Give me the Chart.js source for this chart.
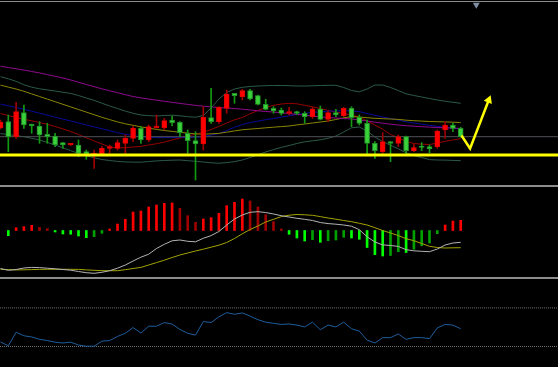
<!DOCTYPE html>
<html><head><meta charset="utf-8">
<script src="https://cdn.jsdelivr.net/npm/chart.js@4.4.1/dist/chart.umd.min.js"></script>
<style>
html,body{margin:0;padding:0;background:#000;width:558px;height:367px;overflow:hidden;}
.pane{position:absolute;left:0;width:558px;}
canvas{display:block;}
.sep{position:absolute;left:0;width:558px;background:#8c8c8c;}
</style></head><body>
<div class="pane" style="top:2px;height:182px"><canvas id="main" width="558" height="182"></canvas></div>
<div class="pane" style="top:187px;height:89px"><canvas id="macd" width="558" height="89"></canvas></div>
<div class="pane" style="top:279px;height:88px"><canvas id="rsi" width="558" height="88"></canvas></div>
<div class="sep" style="top:1px;height:1px"></div>
<div class="sep" style="top:185px;height:2px"></div>
<div class="sep" style="top:277px;height:2px"></div>
<script>
// ---- data (one entry per bar, bar 0 is the partially visible first bar) ----
const open  = [107.20,107.83,106.33,108.73,107.60,107.40,106.57,106.40,105.73,105.50,
               105.50,104.83,104.60,104.60,105.17,105.17,105.67,106.17,107.17,106.00,
               107.23,107.23,108.00,107.77,106.67,105.93,105.60,108.23,107.83,109.17,
               110.67,110.33,110.93,110.43,109.57,109.17,109.00,108.67,108.83,108.67,
               108.33,109.10,108.07,108.73,108.43,109.17,108.27,107.67,105.67,104.83,
               105.83,105.67,106.33,104.93,105.33,105.33,105.33,107.00,107.50,107.17];
const high  = [108.00,108.50,109.77,109.50,107.60,107.83,107.67,106.67,105.73,105.67,
               106.00,105.00,105.00,105.33,105.50,106.00,106.50,107.33,107.33,107.50,
               108.50,108.17,108.40,107.83,107.00,106.83,109.33,111.17,109.33,111.00,
               110.67,111.07,111.07,110.50,110.07,109.33,109.20,109.27,108.90,108.83,
               109.27,109.40,108.83,109.07,109.27,109.33,108.50,108.00,105.83,106.73,
               105.83,106.50,106.40,105.60,105.73,105.50,107.00,107.83,107.67,107.27];
const low   = [107.10,104.83,106.17,107.17,106.67,105.67,105.67,105.33,105.17,105.45,
               104.33,104.07,103.17,104.50,104.67,105.00,104.67,105.83,105.67,105.83,
               107.17,107.00,107.40,106.33,104.67,102.00,105.00,107.67,107.67,108.67,
               109.67,110.00,110.00,109.50,109.00,108.67,108.50,108.50,108.57,107.67,
               108.17,108.00,107.83,108.33,108.33,107.33,107.50,104.60,104.17,104.67,
               103.83,105.33,104.67,104.83,104.93,104.73,105.17,106.17,106.83,106.27];
const close = [107.80,106.33,108.83,107.50,107.40,106.50,106.33,105.50,105.50,105.67,
               104.67,104.60,104.70,105.17,105.33,105.73,106.17,107.17,106.00,107.33,
               107.40,107.93,107.73,106.73,105.93,105.60,108.27,107.83,109.27,110.60,
               110.43,110.93,110.10,109.57,109.07,108.90,108.67,108.83,108.67,108.33,
               109.10,108.07,108.73,108.50,109.17,108.23,107.67,105.67,104.93,105.83,
               105.67,106.33,104.93,105.23,105.27,105.10,106.90,107.50,107.17,106.33];

const maFast  = [108.65,108.45,108.25,108.07,107.92,107.75,107.57,107.35,107.11,106.85,
                 106.55,106.22,105.90,105.60,105.30,105.20,105.24,105.30,105.36,105.50,
                 105.63,105.79,106.00,106.20,106.40,106.58,106.77,107.05,107.36,107.70,
                 108.02,108.25,108.62,108.96,109.24,109.47,109.60,109.67,109.62,109.47,
                 109.32,109.15,108.96,108.80,108.64,108.52,108.28,107.90,107.50,107.08,
                 106.55,106.22,105.85,105.65,105.58,105.55,105.70,105.87,106.00,106.14];
const maMid   = [109.59,109.42,109.25,109.07,108.88,108.68,108.49,108.29,108.10,107.90,
                 107.71,107.51,107.32,107.12,106.93,106.73,106.58,106.45,106.32,106.28,
                 106.24,106.24,106.25,106.27,106.27,106.27,106.34,106.49,106.65,106.95,
                 107.27,107.55,107.74,107.89,108.03,108.15,108.29,108.42,108.54,108.67,
                 108.76,108.82,108.88,108.91,108.93,108.90,108.84,108.65,108.47,108.30,
                 108.14,107.98,107.82,107.70,107.58,107.47,107.36,107.26,107.18,107.10];
const maSlow  = [111.49,111.29,111.10,110.87,110.61,110.35,110.09,109.83,109.57,109.31,
                 109.05,108.79,108.53,108.27,108.04,107.81,107.62,107.47,107.31,107.19,
                 107.06,106.95,106.86,106.77,106.69,106.61,106.58,106.62,106.66,106.78,
                 106.91,107.02,107.09,107.15,107.22,107.28,107.34,107.40,107.51,107.60,
                 107.70,107.80,107.90,108.05,108.22,108.34,108.30,108.23,108.17,108.13,
                 108.10,108.06,107.98,107.93,107.89,107.85,107.83,107.81,107.78,107.75];
const maLong  = [113.38,113.25,113.12,113.00,112.85,112.71,112.54,112.37,112.20,112.00,
                 111.78,111.55,111.33,111.12,110.92,110.73,110.53,110.35,110.21,110.10,
                 109.98,109.87,109.77,109.66,109.56,109.46,109.38,109.31,109.25,109.20,
                 109.15,109.08,109.00,108.92,108.85,108.80,108.72,108.64,108.56,108.48,
                 108.40,108.32,108.25,108.20,108.15,108.10,108.00,107.90,107.78,107.68,
                 107.58,107.50,107.43,107.38,107.33,107.29,107.25,107.22,107.19,107.16];
const bbUpper = [112.33,112.12,111.87,111.52,111.28,111.12,111.01,110.90,110.77,110.66,
                 110.45,110.20,109.97,109.68,109.40,109.15,108.89,108.67,108.50,108.44,
                 108.40,108.45,108.48,108.42,108.33,108.28,108.45,109.20,110.10,110.75,
                 111.10,111.27,111.35,111.40,111.43,111.45,111.45,111.43,111.40,111.40,
                 111.42,111.45,111.47,111.47,111.25,110.95,110.82,111.10,111.50,111.50,
                 111.25,110.95,110.62,110.45,110.30,110.15,110.00,109.88,109.77,109.67];
const bbLower = [106.65,106.54,106.44,106.33,106.17,106.01,105.76,105.50,105.22,104.94,
                 104.65,104.43,104.23,104.05,103.95,103.86,103.81,103.79,103.78,103.85,
                 103.91,103.95,103.98,104.00,103.93,103.87,103.80,103.72,103.68,103.74,
                 103.84,104.00,104.25,104.53,104.80,105.04,105.26,105.45,105.65,105.82,
                 105.92,106.02,106.17,106.40,106.80,107.22,107.30,106.90,106.30,105.85,
                 105.47,105.12,104.72,104.44,104.25,104.04,104.00,103.99,103.96,103.93];

const supportLevel = 104.50;
const forecastPath = [[59.1,106.45],[60.2,105.15],[62.6,110.00]];   // [bar, price]
const shiftMarker  = [61, 119.53];

const macdHist = [null,-0.52,0.28,0.38,0.52,0.32,0.18,-0.15,-0.35,-0.37,
                  -0.55,-0.72,-0.62,-0.28,0.15,0.65,1.12,1.85,1.95,2.35,
                  2.55,2.72,2.75,2.22,1.48,0.82,1.15,1.28,1.72,2.48,
                  2.82,3.15,2.95,2.35,1.58,0.88,0.15,-0.38,-0.75,-1.05,
                  -0.92,-1.18,-1.02,-0.95,-0.68,-0.75,-0.88,-1.70,-2.42,-2.55,
                  -2.50,-2.12,-2.20,-1.87,-1.53,-1.25,-0.32,0.55,0.95,1.02];
const macdMain = [-3.80,-3.98,-3.90,-3.75,-3.69,-3.71,-3.77,-3.83,-3.90,-3.97,
                  -4.10,-4.22,-4.28,-4.18,-4.02,-3.77,-3.45,-3.05,-2.67,-2.37,
                  -1.80,-1.38,-1.03,-0.95,-1.08,-1.13,-0.78,-0.51,-0.10,0.55,
                  1.15,1.55,1.82,1.88,1.80,1.65,1.48,1.35,1.22,1.12,
                  1.00,0.80,0.69,0.63,0.55,0.43,0.08,-0.63,-1.15,-1.44,
                  -1.50,-1.59,-1.92,-2.03,-2.08,-2.12,-1.85,-1.45,-1.25,-1.18];
const macdSignal = [-3.88,-3.91,-3.94,-3.93,-3.91,-3.89,-3.88,-3.88,-3.88,-3.88,
                  -3.89,-3.94,-3.98,-4.02,-4.02,-4.02,-3.92,-3.80,-3.69,-3.45,
                  -3.21,-2.97,-2.70,-2.45,-2.25,-2.05,-1.87,-1.67,-1.47,-1.20,
                  -0.80,-0.33,0.10,0.45,0.85,1.12,1.39,1.53,1.60,1.57,
                  1.52,1.39,1.25,1.13,1.00,0.88,0.72,0.55,0.28,0.00,
                  -0.25,-0.51,-0.82,-1.02,-1.30,-1.58,-1.70,-1.75,-1.73,-1.72];

const rsi = [34.7,30.7,44.8,41.1,39.9,37.4,36.2,34.5,33.6,34.5,
             31.5,30.3,30.3,35.5,36.2,40.4,43.7,49.6,44.0,51.0,
             51.0,54.8,53.3,47.7,43.7,41.8,55.9,54.8,60.7,65.1,
             63.4,64.8,61.5,57.8,55.2,54.0,52.9,53.3,52.2,50.3,
             55.2,47.4,52.2,50.3,55.2,48.4,45.9,36.6,33.6,39.2,
             39.2,43.0,37.4,39.2,39.2,38.1,49.3,52.9,52.2,48.4];
const rsiLevels = [70, 30];

// ---- helpers ----
const xMin = -0.064, xMax = 71.474;
const pts = a => a.map((v,i)=>({x:i,y:v}));
const hline = v => [{x:xMin,y:v},{x:xMax,y:v}];
const lineDs = (data,color,order,extra) => Object.assign({type:'line',data,borderColor:color,borderWidth:1,pointRadius:0,tension:0,order},extra||{});
const baseOpts = (ymin,ymax) => ({
  responsive:false, animation:false, events:[],
  plugins:{legend:{display:false},tooltip:{enabled:false}},
  layout:{padding:0, autoPadding:false},
  scales:{
    x:{type:'linear',min:xMin,max:xMax,display:false,offset:false},
    y:{min:ymin,max:ymax,display:false}
  }
});

const up = close.map((c,i)=>c>=open[i]);
const lastClose = close[close.length-1];

new Chart(document.getElementById('main'), {
  type:'bar',
  data:{datasets:[
    lineDs(pts(bbUpper),'#2b5a47',8),
    lineDs(pts(bbLower),'#2b5a47',8),
    lineDs(pts(maLong),'#8e0a8e',7),
    lineDs(pts(maSlow),'#8a8500',7),
    lineDs(pts(maMid),'#0a0a9a',7),
    lineDs(pts(maFast),'#960000',7),
    lineDs(hline(lastClose),'#505058',6),
    {type:'bar',data:low.map((l,i)=>({x:i,y:[l,high[i]]})),
     backgroundColor:up.map(u=>u?'#a00000':'#129a12'),barThickness:1,grouped:false,order:5},
    {type:'bar',data:open.map((o,i)=>({x:i,y:[o,close[i]]})),
     backgroundColor:up.map(u=>u?'#ff0000':'#3ad13a'),
     borderColor:up.map(u=>u?'#e00000':'#23902a'),
     borderWidth:1,borderSkipped:false,barThickness:5,minBarLength:1,grouped:false,order:4},
    lineDs(hline(supportLevel),'#ffff00',2,{borderWidth:3}),
    lineDs(forecastPath.map(p=>({x:p[0],y:p[1]})),'#ffff00',1,
      {borderWidth:2.5,pointRadius:[0,0,5],pointStyle:'triangle',pointRotation:[0,0,22],
       pointBackgroundColor:'#ffff00',pointBorderColor:'#ffff00',pointBorderWidth:0}),
    {type:'line',data:[{x:shiftMarker[0],y:shiftMarker[1]}],showLine:false,pointStyle:'triangle',
     pointRotation:180,pointRadius:4,pointBackgroundColor:'#8090a4',pointBorderWidth:0,order:0}
  ]},
  options:baseOpts(101.6,119.8)
});

let prev = null;
const histColors = macdHist.map(v=>{
  let c = '#00ff00';
  if (v!==null){
    if (v>=0) c = (prev===null||v>=prev)?'#ff0000':'#a00000';
    else c = (prev===null||v<=prev)?'#00ff00':'#00a000';
    prev = v;
  }
  return c;
});

new Chart(document.getElementById('macd'), {
  type:'bar',
  data:{datasets:[
    {type:'bar',data:macdHist.map((v,i)=>({x:i,y:v})),backgroundColor:histColors,barThickness:2,grouped:false,order:3},
    lineDs(pts(macdSignal),'#a3a300',2),
    lineDs(pts(macdMain),'#b4b4b4',1)
  ]},
  options:baseOpts(-4.55,4.35)
});

new Chart(document.getElementById('rsi'), {
  type:'line',
  data:{datasets:[
    lineDs(hline(rsiLevels[0]),'#707070',2,{borderDash:[1,1]}),
    lineDs(hline(rsiLevels[1]),'#707070',2,{borderDash:[1,1]}),
    lineDs(pts(rsi),'#1f5d9c',1)
  ]},
  options:baseOpts(8.76,99.95)
});
</script>
</body></html>
